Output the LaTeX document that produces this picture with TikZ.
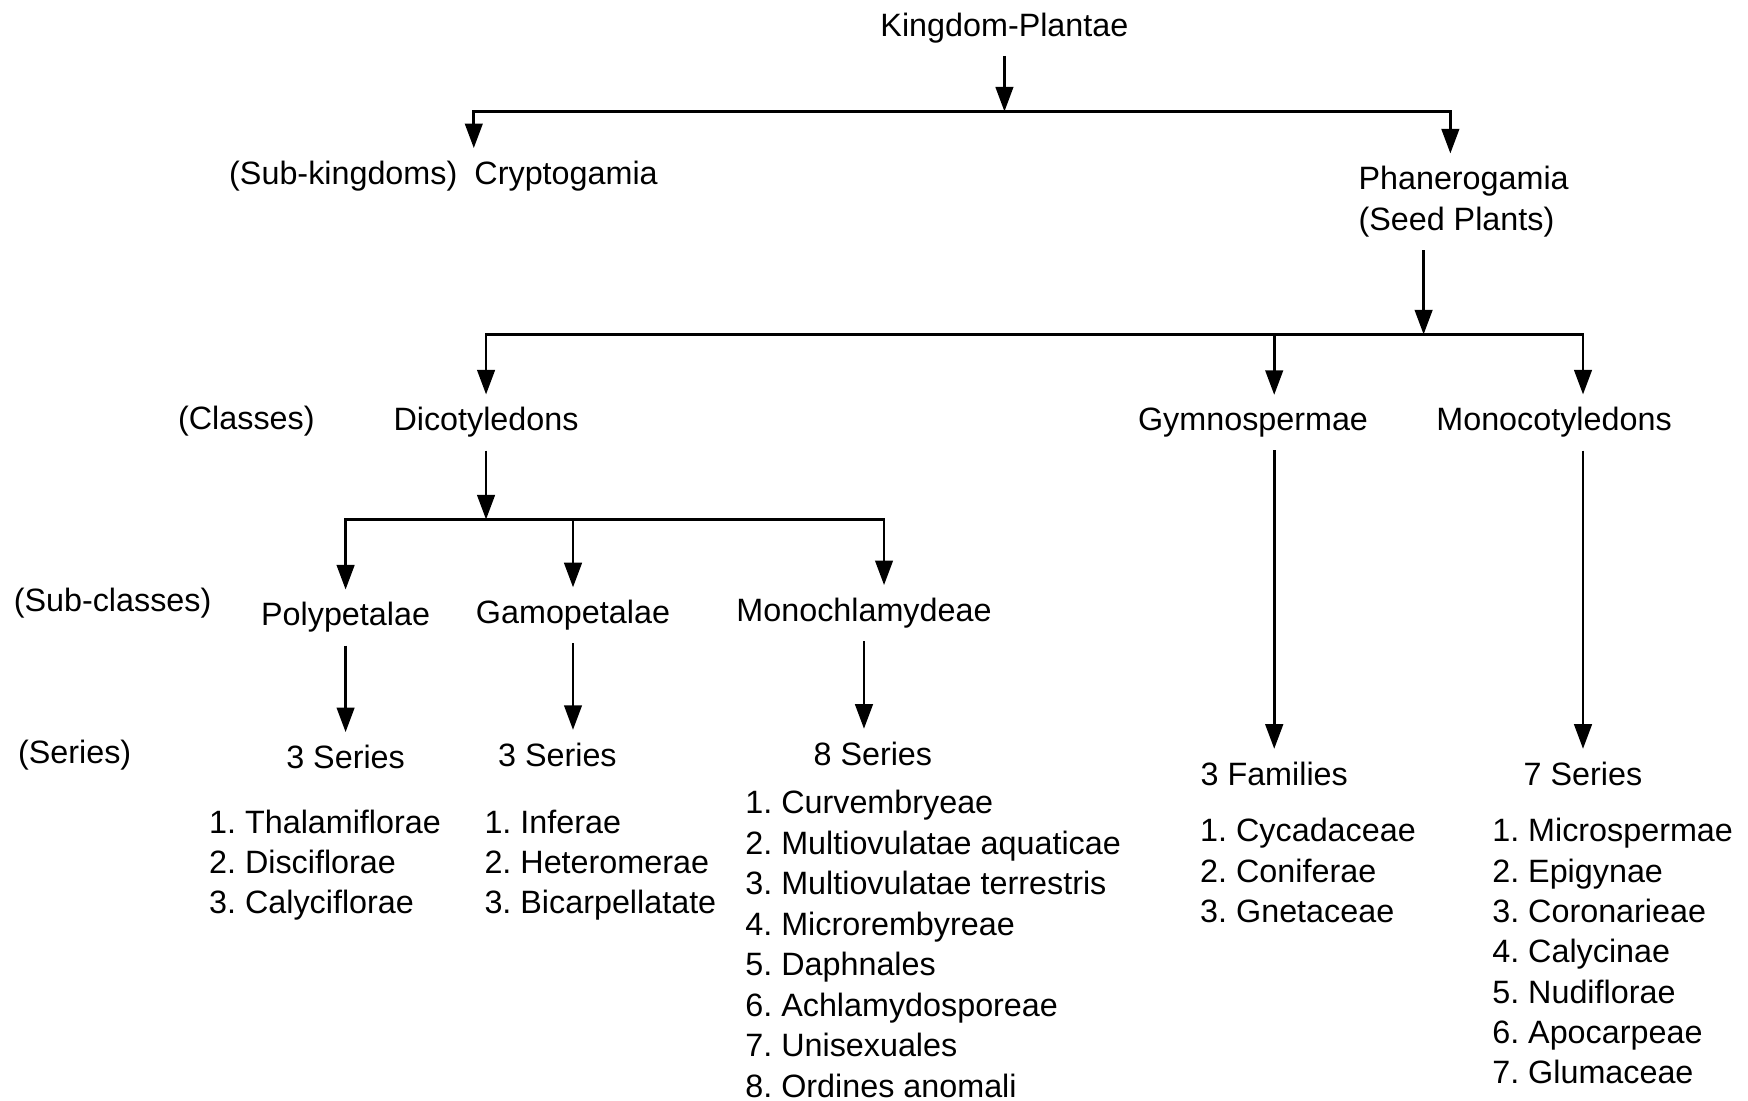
\documentclass[tikz,border=0pt]{standalone}
\usepackage{fontspec}
\setmainfont{Liberation Sans}
\usetikzlibrary{arrows.meta, positioning, calc}
\tikzset{every node/.append style={align=center}}

\begin{document}
\begin{tikzpicture}[x=0.011148cm, y=-0.011148cm,
  txt/.style={font=\fontsize{9.2}{11.55}\selectfont, inner xsep=0pt, inner ysep=3.5pt},
  item/.style={txt, anchor=base west, inner ysep=0pt},
  arr/.style={line width=0.75pt, -{Triangle[length=7pt, width=5pt]}}]
\useasboundingbox (0,0) rectangle (1568,987);

% ── Kingdom and sub-kingdoms ─────────────────────────────────────────────────
\node[txt] (kingdom) at (901,25) {Kingdom-Plantae};
\coordinate (bar1) at (901,100);
\node[txt, anchor=west] (subking) at (205,158) {(Sub-kingdoms)};
\node[txt, anchor=west] (crypto) at (425,158) {Cryptogamia};
\node[txt, anchor=west, align=left] (phanero) at (1218,181)
      {Phanerogamia\\(Seed Plants)};

\draw[arr] (kingdom) -- (bar1);
\draw[arr] (bar1) -| (crypto.north west);
\draw[arr] (bar1) -| ($(phanero.north west)+(83,0)$);

% ── Classes ──────────────────────────────────────────────────────────────────
\coordinate (bar2) at (1277,300);
\node[txt] (classes) at (221,378) {(Classes)};
\node[txt] (dicot) at (436,379) {Dicotyledons};
\node[txt] (gymno) at (1124,379) {Gymnospermae};
\node[txt] (monocot) at (1394,379) {Monocotyledons};

\draw[arr] (bar2 |- phanero.south) -- (bar2);
\draw[arr] (bar2) -| (dicot.north);

% ── Sub-classes ──────────────────────────────────────────────────────────────
\coordinate (bar3) at (436,466);
\node[txt] (subcls) at (101,541) {(Sub-classes)};
\node[txt] (poly) at (310,554) {Polypetalae};
\node[txt] (gamo) at (514,552) {Gamopetalae};
\node[txt] (monoch) at (775,550) {Monochlamydeae};

\draw[arr] (dicot) -- (bar3);
\draw[arr] (bar3) -| (poly.north);
\draw[arr] (bar3) -| (gamo.north);
\draw[arr] (bar3) -| ($(monoch.north)+(18,0)$);

% ── Series / families ────────────────────────────────────────────────────────
\node[txt] (series) at (67,677) {(Series)};
\node[txt] (pser) at (310,679) {3 Series};
\node[txt] (gser) at (500,677) {3 Series};
\node[txt] (mser) at (783,676) {8 Series};
\node[txt] (gfam) at (1143,694) {3 Families};
\node[txt] (mcser) at (1420,694) {7 Series};

\draw[arr] (poly) -- (pser);
\draw[arr] (gamo.south) -- (gamo.south |- gser.north);
\draw[arr] (monoch.south) -- (monoch.south |- mser.north);
\draw[arr] (bar2) -| (gfam.north |- gymno.north);
\draw[arr] (bar2) -| (mcser.north |- monocot.north);
\draw[arr] (gfam.north |- gymno.south) -- (gfam.north);
\draw[arr] (mcser.north |- monocot.south) -- (mcser.north);

% Lists of series (base line = centre + 10)
\foreach \i/\t in {1/Thalamiflorae, 2/Disciflorae, 3/Calyciflorae}
  \node[item] (pl\i) at (187, {748+(\i-1)*35.7}) {\i.\ \t};
\foreach \i/\t in {1/Inferae, 2/Heteromerae, 3/Bicarpellatate}
  \node[item] (gl\i) at (434, {748+(\i-1)*35.7}) {\i.\ \t};
\foreach \i/\t in {1/Curvembryeae, 2/Multiovulatae aquaticae,
  3/Multiovulatae terrestris, 4/Microrembyreae, 5/Daphnales,
  6/Achlamydosporeae, 7/Unisexuales, 8/Ordines anomali}
  \node[item] (ml\i) at (668, {730+(\i-1)*36.3}) {\i.\ \t};
\foreach \i/\t in {1/Cycadaceae, 2/Coniferae, 3/Gnetaceae}
  \node[item] (fl\i) at (1076, {755+(\i-1)*36.2}) {\i.\ \t};
\foreach \i/\t in {1/Microspermae, 2/Epigynae, 3/Coronarieae,
  4/Calycinae, 5/Nudiflorae, 6/Apocarpeae, 7/Glumaceae}
  \node[item] (cl\i) at (1338, {755+(\i-1)*36.2}) {\i.\ \t};

\end{tikzpicture}
\end{document}
